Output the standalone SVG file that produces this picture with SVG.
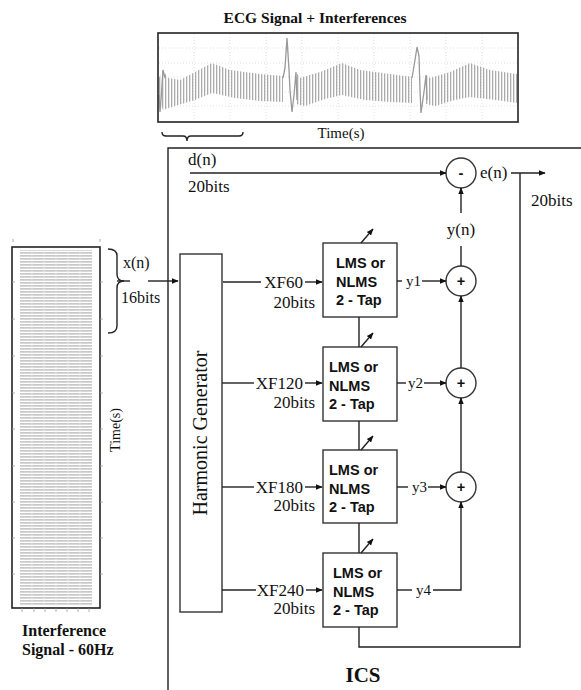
<svg xmlns="http://www.w3.org/2000/svg" width="581" height="690" viewBox="0 0 581 690">
<style>
.ln{stroke:#222;stroke-width:1.4;fill:none}
.ser{font-family:"Liberation Serif","Times New Roman",serif;fill:#111}
.lbl{font-size:17px}
.bold{font-weight:bold}
.lms{font-family:"Liberation Sans",Arial,sans-serif;font-weight:bold;font-size:14.5px;fill:#111}
.box{fill:#fff;stroke:#333;stroke-width:1.4}
.grid{stroke:#d8d8d8;stroke-width:0.8;stroke-dasharray:1 2}
.tick{stroke:#999;stroke-width:0.8}
.spike{fill:none;stroke:#999;stroke-width:1.3}
</style>
<defs>
<marker id="ar" viewBox="0 0 10 10" refX="9" refY="5" markerWidth="7" markerHeight="7" orient="auto" markerUnits="userSpaceOnUse">
<path d="M0,1 L10,5 L0,9 z" fill="#111"/>
</marker>
<pattern id="vlines" width="3" height="10" patternUnits="userSpaceOnUse">
<rect x="0" y="0" width="1.3" height="10" fill="#ababab"/>
</pattern>
<pattern id="hlines" width="10" height="3" patternUnits="userSpaceOnUse">
<rect x="0" y="0" width="10" height="1.7" fill="#c8c8c8"/>
</pattern>
</defs>
<rect width="581" height="690" fill="#fff"/>

<!-- ECG plot -->
<g id="ecg-plot">
<text class="ser bold" x="315" y="23" font-size="15.5" text-anchor="middle">ECG Signal + Interferences</text>
<g>
<line class="grid" x1="194" y1="34" x2="194" y2="121"/><line class="grid" x1="230" y1="34" x2="230" y2="121"/>
<line class="grid" x1="266" y1="34" x2="266" y2="121"/><line class="grid" x1="302" y1="34" x2="302" y2="121"/>
<line class="grid" x1="338" y1="34" x2="338" y2="121"/><line class="grid" x1="374" y1="34" x2="374" y2="121"/>
<line class="grid" x1="410" y1="34" x2="410" y2="121"/><line class="grid" x1="446" y1="34" x2="446" y2="121"/>
<line class="grid" x1="482" y1="34" x2="482" y2="121"/>
<line class="grid" x1="159" y1="48" x2="517" y2="48"/><line class="grid" x1="159" y1="63" x2="517" y2="63"/>
<line class="grid" x1="159" y1="77" x2="517" y2="77"/><line class="grid" x1="159" y1="92" x2="517" y2="92"/>
<line class="grid" x1="159" y1="106" x2="517" y2="106"/>
</g>
<path fill="url(#vlines)" d="M159,78 L163,70 L168,78 L180,80 L195,72 L212,63 L230,70 L260,74 L283,76 L283,102 L260,101 L235,98 L212,93 L195,100 L175,106 L163,110 L159,100 Z"/>
<path fill="url(#vlines)" d="M296,72 L300,78 L320,72 L342,63 L360,70 L390,74 L412,77 L412,103 L390,102 L365,100 L342,95 L325,99 L305,106 L296,104 Z"/>
<path fill="url(#vlines)" d="M426,75 L430,78 L450,72 L470,63 L490,70 L517,74 L517,103 L495,100 L470,97 L455,100 L435,106 L426,104 Z"/>
<polyline class="spike" points="159,95 160,112 161,100 163,70 165,78"/>
<polyline class="spike" points="283,78 285,68 287,38 289,70 290,90 292,112 294,95 296,72 297,100"/>
<polyline class="spike" points="412,78 415,60 417,47 419,56 420,90 421,113 424,92 426,75 427,100"/>
<rect x="158" y="33" width="360" height="89" fill="none" stroke="#222" stroke-width="1.6"/>
<text class="ser" x="341" y="138" font-size="15" text-anchor="middle">Time(s)</text>
<path class="ln" stroke-width="1" d="M162,132 Q162,136 166,136 L183,136 Q187,136 187,141 Q187,136 191,136 L239,136 Q243,136 243,132" stroke="#555"/>
</g>

<!-- Interference plot -->
<g id="interference-plot">
<rect x="20" y="250" width="72" height="356" fill="url(#hlines)"/>
<g stroke="#ececec" stroke-width="0.8">
<line x1="32" y1="250" x2="32" y2="606"/><line x1="44" y1="250" x2="44" y2="606"/>
<line x1="56" y1="250" x2="56" y2="606"/><line x1="68" y1="250" x2="68" y2="606"/>
<line x1="80" y1="250" x2="80" y2="606"/>
</g>
<rect x="12" y="247" width="88" height="361" fill="none" stroke="#222" stroke-width="1.6"/>
<g class="tick">
<line x1="13" y1="239" x2="13" y2="242"/><line x1="100" y1="239" x2="100" y2="242"/>
<line x1="12" y1="282" x2="15" y2="282"/><line x1="100" y1="282" x2="103" y2="282"/>
<line x1="12" y1="319" x2="15" y2="319"/><line x1="100" y1="319" x2="103" y2="319"/>
<line x1="12" y1="356" x2="15" y2="356"/><line x1="100" y1="356" x2="103" y2="356"/>
<line x1="12" y1="393" x2="15" y2="393"/><line x1="100" y1="393" x2="103" y2="393"/>
<line x1="12" y1="429" x2="15" y2="429"/><line x1="100" y1="429" x2="103" y2="429"/>
<line x1="12" y1="466" x2="15" y2="466"/><line x1="100" y1="466" x2="103" y2="466"/>
<line x1="12" y1="502" x2="15" y2="502"/><line x1="100" y1="502" x2="103" y2="502"/>
<line x1="12" y1="538" x2="15" y2="538"/><line x1="100" y1="538" x2="103" y2="538"/>
<line x1="12" y1="574" x2="15" y2="574"/><line x1="100" y1="574" x2="103" y2="574"/>
<line x1="22" y1="608" x2="22" y2="612"/><line x1="34" y1="608" x2="34" y2="612"/>
<line x1="45" y1="608" x2="45" y2="612"/><line x1="56" y1="608" x2="56" y2="612"/>
<line x1="67" y1="608" x2="67" y2="612"/><line x1="78" y1="608" x2="78" y2="612"/>
<line x1="89" y1="608" x2="89" y2="612"/>
</g>
<text class="ser" transform="translate(120,430) rotate(-90)" font-size="14" text-anchor="middle">Time(s)</text>
<text class="ser bold" x="22" y="636" font-size="16">Interference</text>
<text class="ser bold" x="22" y="655" font-size="16">Signal - 60Hz</text>
<path class="ln" stroke-width="1.1" stroke="#555" d="M108,249 Q117,249 117,256 L117,274 Q117,281 124,281 Q117,281 117,288 L117,326 Q117,333 108,333"/>
</g>

<!-- ICS frame -->
<g id="ics-frame">
<path class="ln" stroke-width="1.6" d="M168,690 L168,148 L581,148"/>
<text class="ser bold" x="363" y="682" font-size="21" text-anchor="middle">ICS</text>
</g>

<g id="harmonic-generator">
<rect class="box" x="180" y="254" width="42" height="358"/>
<text class="ser" transform="translate(207,433) rotate(-90)" font-size="20" text-anchor="middle">Harmonic Generator</text>
</g>

<g id="lms1">
<rect class="box" x="323" y="243" width="74" height="74"/>
<text class="lms" x="336" y="268">LMS or</text><text class="lms" x="336" y="287">NLMS</text><text class="lms" x="336" y="305">2 - Tap</text>
</g>
<g id="lms2">
<rect class="box" x="323" y="347" width="74" height="74"/>
<text class="lms" x="329" y="372">LMS or</text><text class="lms" x="329" y="391">NLMS</text><text class="lms" x="329" y="409">2 - Tap</text>
</g>
<g id="lms3">
<rect class="box" x="323" y="450" width="74" height="73"/>
<text class="lms" x="329" y="475">LMS or</text><text class="lms" x="329" y="494">NLMS</text><text class="lms" x="329" y="512">2 - Tap</text>
</g>
<g id="lms4">
<rect class="box" x="323" y="553" width="74" height="74"/>
<text class="lms" x="333" y="578">LMS or</text><text class="lms" x="333" y="597">NLMS</text><text class="lms" x="333" y="615">2 - Tap</text>
</g>

<g id="sub">
<circle cx="461" cy="173" r="15" class="box"/>
<text class="lms" x="461" y="178" text-anchor="middle" font-weight="normal">-</text>
</g>
<g id="add1"><circle cx="461" cy="281" r="15" class="box"/><text class="lms" x="461" y="286" text-anchor="middle" font-weight="normal">+</text></g>
<g id="add2"><circle cx="461" cy="383" r="15" class="box"/><text class="lms" x="461" y="388" text-anchor="middle" font-weight="normal">+</text></g>
<g id="add3"><circle cx="461" cy="487" r="15" class="box"/><text class="lms" x="461" y="492" text-anchor="middle" font-weight="normal">+</text></g>

<g id="connectors">
<line class="ln" x1="190" y1="173" x2="446" y2="173" marker-end="url(#ar)"/>
<line class="ln" x1="511" y1="173" x2="545" y2="173" marker-end="url(#ar)"/>
<path class="ln" d="M520,173 L520,647 L359,647 L359,627"/>
<line class="ln" x1="461" y1="213" x2="461" y2="188" marker-end="url(#ar)"/>
<line class="ln" x1="461" y1="266" x2="461" y2="246"/>
<line class="ln" x1="461" y1="368" x2="461" y2="296" marker-end="url(#ar)"/>
<line class="ln" x1="461" y1="472" x2="461" y2="398" marker-end="url(#ar)"/>
<path class="ln" d="M433,590 L461,590 L461,502" marker-end="url(#ar)"/>
<line class="ln" x1="397" y1="281" x2="402" y2="281"/><line class="ln" x1="422" y1="281" x2="446" y2="281" marker-end="url(#ar)"/>
<line class="ln" x1="397" y1="383" x2="406" y2="383"/><line class="ln" x1="424" y1="383" x2="446" y2="383" marker-end="url(#ar)"/>
<line class="ln" x1="397" y1="487" x2="408" y2="487"/><line class="ln" x1="428" y1="487" x2="446" y2="487" marker-end="url(#ar)"/>
<line class="ln" x1="397" y1="590" x2="412" y2="590"/>
<line class="ln" x1="117" y1="281" x2="130" y2="281" stroke-width="1.1"/>
<line class="ln" x1="148" y1="281" x2="178" y2="281" marker-end="url(#ar)"/>
<line class="ln" x1="223" y1="282" x2="261" y2="282"/><line class="ln" x1="305" y1="282" x2="322" y2="282" marker-end="url(#ar)"/>
<line class="ln" x1="222" y1="383" x2="254" y2="383"/><line class="ln" x1="305" y1="383" x2="322" y2="383" marker-end="url(#ar)"/>
<line class="ln" x1="222" y1="487" x2="254" y2="487"/><line class="ln" x1="305" y1="487" x2="322" y2="487" marker-end="url(#ar)"/>
<line class="ln" x1="222" y1="590" x2="256" y2="590"/><line class="ln" x1="306" y1="590" x2="322" y2="590" marker-end="url(#ar)"/>
<line class="ln" x1="359" y1="317" x2="359" y2="347"/>
<line class="ln" x1="359" y1="421" x2="359" y2="450"/>
<line class="ln" x1="359" y1="523" x2="359" y2="553"/>
<line class="ln" x1="361" y1="243" x2="373" y2="229" marker-end="url(#ar)"/>
<line class="ln" x1="361" y1="347" x2="373" y2="333" marker-end="url(#ar)"/>
<line class="ln" x1="361" y1="450" x2="373" y2="436" marker-end="url(#ar)"/>
<line class="ln" x1="361" y1="553" x2="373" y2="539" marker-end="url(#ar)"/>
</g>

<g id="labels">
<text class="ser lbl" x="188" y="165">d(n)</text>
<text class="ser lbl" x="188" y="192">20bits</text>
<text class="ser lbl" x="480" y="178">e(n)</text>
<text class="ser lbl" x="531" y="206">20bits</text>
<text class="ser lbl" x="461" y="235" text-anchor="middle">y(n)</text>
<text class="ser" x="123" y="268" font-size="16">x(n)</text>
<text class="ser" x="121" y="303" font-size="16">16bits</text>
<text class="ser lbl" x="303" y="288" text-anchor="end">XF60</text>
<text class="ser lbl" x="315" y="308" text-anchor="end">20bits</text>
<text class="ser lbl" x="303" y="389" text-anchor="end">XF120</text>
<text class="ser lbl" x="315" y="408" text-anchor="end">20bits</text>
<text class="ser lbl" x="303" y="493" text-anchor="end">XF180</text>
<text class="ser lbl" x="315" y="511" text-anchor="end">20bits</text>
<text class="ser lbl" x="304" y="596" text-anchor="end">XF240</text>
<text class="ser lbl" x="315" y="614" text-anchor="end">20bits</text>
<text class="ser" x="406" y="286" font-size="15">y1</text>
<text class="ser" x="408" y="388" font-size="15">y2</text>
<text class="ser" x="412" y="492" font-size="15">y3</text>
<text class="ser" x="416" y="595" font-size="15">y4</text>
</g>
</svg>
